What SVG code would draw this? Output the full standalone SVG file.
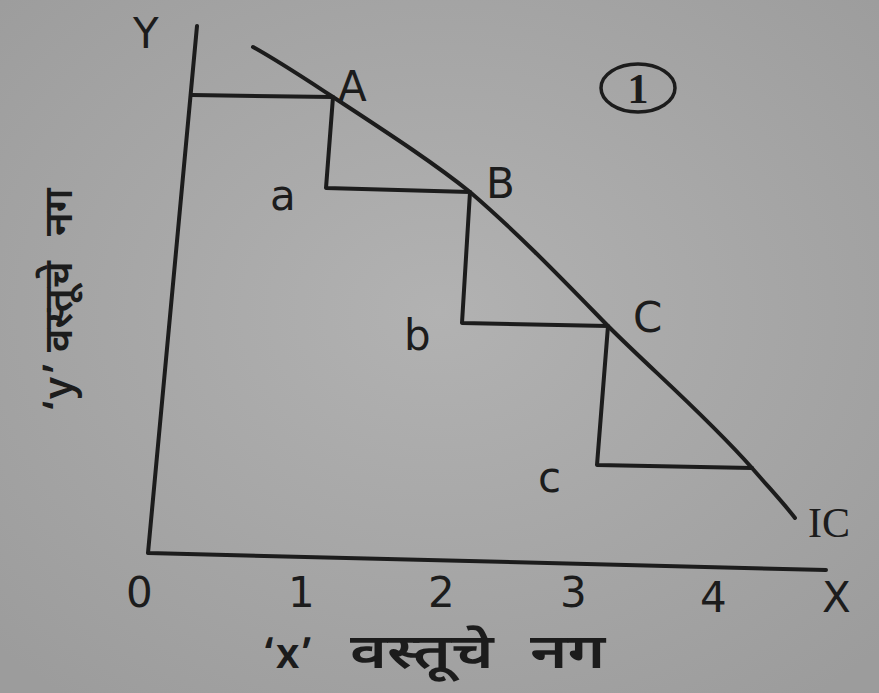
<svg xmlns="http://www.w3.org/2000/svg" width="879" height="693" viewBox="0 0 879 693">
<defs>
<radialGradient id="bg" cx="50%" cy="45%" r="70%">
<stop offset="0" stop-color="#b2b2b2"/>
<stop offset="1" stop-color="#9c9c9c"/>
</radialGradient>
</defs>
<style>
.ln{fill:none;stroke:#1c1c1c;stroke-width:4;stroke-linecap:round;stroke-linejoin:round}
.t{font-family:"DejaVu Sans",Verdana,sans-serif;font-size:42px;fill:#1c1c1c}
.s{font-family:"Liberation Serif","Times New Roman",serif;font-size:42px;fill:#1c1c1c}
.d{font-family:"Noto Sans Devanagari","Noto Sans","Lohit Devanagari",sans-serif;fill:#1c1c1c;font-weight:600}
.dx{font-size:48px}
.dy{font-size:40px}
</style>
<rect width="879" height="693" fill="url(#bg)"/>
<g id="axes">
<path class="ln" d="M197,26 L148,553 L826,570"/>
<text class="t" x="133" y="48">Y</text>
<text class="t" x="822" y="612">X</text>
<text class="t" x="126" y="607">0</text>
<text class="t" x="288" y="607">1</text>
<text class="t" x="428" y="607">2</text>
<text class="t" x="560" y="607">3</text>
<text class="t" x="700" y="612">4</text>
</g>
<g id="connectors">
<path class="ln" d="M192,95 L333,97 L326,188 L470,192 L462,323 L608,326 L597,465 L752,468"/>
<path class="ln" d="M253,47 C280,62 310,82 333,97 C380,128 430,160 470,192 C520,235 565,282 608,326 C652,370 706,416 752,468 C772,491 786,506 795,518"/>
</g>
<g id="A"><text class="t" x="338" y="101">A</text></g>
<g id="a"><text class="t" x="270" y="210">a</text></g>
<g id="B"><text class="t" x="486" y="198">B</text></g>
<g id="b"><text class="t" x="404" y="350">b</text></g>
<g id="C"><text class="t" x="633" y="332">C</text></g>
<g id="c"><text class="t" x="538" y="492">c</text></g>
<g id="IC"><text class="s" x="808" y="537">IC</text></g>
<g id="fig"><ellipse cx="638" cy="88" rx="37" ry="24" fill="none" stroke="#1c1c1c" stroke-width="3.5"/><text class="s" x="638" y="103" text-anchor="middle" font-weight="bold" font-size="38">1</text></g>
<g id="xlabel">
<text class="d" font-size="42" x="262" y="668">‘x’</text>
<text class="d dx" transform="translate(350,668) scale(1.32,1)">वस्तूचे</text>
<text class="d dx" transform="translate(530,668) scale(1.32,1)">नग</text>
</g>
<g id="ylabel" transform="translate(72,412) rotate(-90)">
<text class="d dy" x="0" y="0">‘y’</text>
<text class="d dy" x="60" y="0">वस्तूचे</text>
<text class="d dy" x="176" y="0">नग</text>
</g>
</svg>
